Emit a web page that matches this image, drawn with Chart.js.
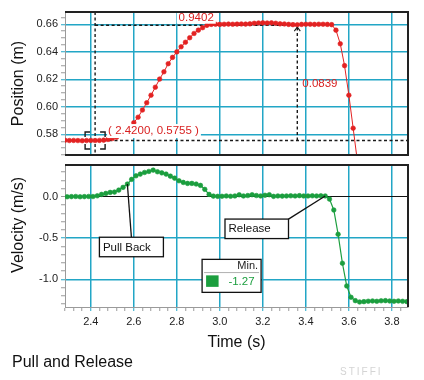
<!DOCTYPE html>
<html><head><meta charset="utf-8">
<script src="https://cdn.jsdelivr.net/npm/chart.js"></script>
<style>
html,body{margin:0;padding:0;background:#fff;}
#wrap{position:relative;width:424px;height:380px;overflow:hidden;font-family:"Liberation Sans",Arial,sans-serif;}
#cA{position:absolute;left:0;top:0;}
#cB{position:absolute;left:0;top:160px;}
#foot{position:absolute;left:12px;top:353px;font-size:16px;line-height:18px;color:#111;}
#wm{position:absolute;left:340px;top:366px;font-size:10px;line-height:12px;color:#d4d4d4;letter-spacing:2px;}
</style></head><body>
<div id="wrap">
<canvas id="cA" width="424" height="160"></canvas>
<canvas id="cB" width="424" height="200"></canvas>
<div id="foot">Pull and Release</div>
<div id="wm">STIFFI</div>
</div>
<script>
// ---------- data ----------
const posTime = [2.28,2.30,2.32,2.34,2.36,2.38,2.40,2.42,2.44,2.46,2.48,2.50,2.52,2.54,2.56,2.58,2.60,2.62,2.64,2.66,2.68,2.70,2.72,2.74,2.76,2.78,2.80,2.82,2.84,2.86,2.88,2.90,2.92,2.94,2.96,2.98,
3.00,3.02,3.04,3.06,3.08,3.10,3.12,3.14,3.16,3.18,3.20,3.22,3.24,3.26,3.28,3.30,3.32,3.34,3.36,3.38,3.40,3.42,3.44,3.46,3.48,3.50,
3.52,3.54,3.56,3.58,3.60,3.62,3.64];
const position = [0.5757,0.5755,0.5756,0.5755,0.5754,0.5755,0.5756,0.5755,0.5756,0.5758,0.5763,0.5770,0.5780,0.5795,0.5818,0.5850,0.5885,0.5925,0.5977,0.6030,0.6085,0.6143,0.6202,0.6255,0.6314,0.6360,0.6400,0.6437,0.6470,0.6503,0.6534,0.6558,0.6576,0.6593,0.6600,0.6601,
0.6600,0.6601,0.6602,0.6601,0.6602,0.6603,0.6602,0.6604,0.6608,0.6610,0.6611,0.6610,0.6611,0.6608,0.6604,0.6603,0.6600,0.6598,0.6597,0.6600,0.6601,0.6601,0.6600,0.6601,0.6601,0.6600,
0.6598,0.6558,0.6459,0.6300,0.6085,0.5845,0.5600];

const velTime = [2.29,2.31,2.33,2.35,2.37,2.39,2.41,2.43,2.45,2.47,2.49,
2.51,2.53,2.55,2.57,2.59,2.61,2.63,2.65,2.67,2.69,2.71,2.73,2.75,2.77,2.79,2.81,2.83,2.85,2.87,2.89,2.91,2.93,2.95,2.97,2.99,
3.01,3.03,3.05,3.07,3.09,3.11,3.13,3.15,3.17,3.19,3.21,3.23,3.25,3.27,3.29,3.31,3.33,3.35,3.37,3.39,3.41,3.43,3.45,3.47,3.49,
3.51,3.53,3.55,3.57,3.59,3.61,3.63,3.65,3.67,3.69,3.71,3.73,3.75,3.77,3.79,3.81,3.83,3.85,3.87,3.89];
const velocity = [0.000,0.002,0.004,0.000,0.002,0.004,0.003,0.012,0.029,0.041,0.053,
0.057,0.081,0.114,0.154,0.211,0.254,0.275,0.295,0.307,0.323,0.303,0.290,0.275,0.250,0.226,0.194,0.174,0.162,0.162,0.154,0.138,0.090,0.029,0.008,0.005,
0.006,0.010,0.006,0.010,0.024,0.010,0.015,0.025,0.015,0.010,0.018,0.025,0.005,0.010,0.008,0.010,0.012,0.010,0.014,0.010,0.010,0.012,0.010,0.012,0.010,
-0.028,-0.160,-0.454,-0.805,-1.080,-1.217,-1.258,-1.274,-1.270,-1.265,-1.262,-1.266,-1.260,-1.258,-1.262,-1.266,-1.262,-1.266,-1.270,-1.110];

const xTickLabels = ['2.4','2.6','2.8','3.0','3.2','3.4','3.6','3.8'];
const posTickLabels = ['0.58','0.60','0.62','0.64','0.66'];
const velTickLabels = ['-1.0','-0.5','0.0'];

// examine / delta annotation values
const cursorT = 2.42, cursorY = 0.5755, deltaT = 0.9402, deltaY = 0.0839;
const velMin = -1.27;

// ---------- styles ----------
const FONT = "'Liberation Sans', Arial, sans-serif";
Chart.defaults.font.family = FONT;
const RED = '#e32222', RED_TXT = '#d81f1f', GREEN = '#1b9e3e', CYAN = '#22a6c6', GREY = '#9a9a9a', INK = '#1a1a1a';
function isMajor(v, step){ const r = v/step; return Math.abs(r - Math.round(r)) < 1e-6; }
function noPad(s){ s.paddingTop = 0; s.paddingBottom = 0; s.paddingLeft = 0; s.paddingRight = 0; }

function dashed(ctx, x1, y1, x2, y2){
  ctx.save(); ctx.setLineDash([3,2.5]); ctx.strokeStyle = INK; ctx.lineWidth = 1.4;
  ctx.beginPath(); ctx.moveTo(x1,y1); ctx.lineTo(x2,y2); ctx.stroke(); ctx.restore();
}
function line(ctx, x1, y1, x2, y2, w, c){
  ctx.save(); ctx.strokeStyle = c || INK; ctx.lineWidth = w || 1;
  ctx.beginPath(); ctx.moveTo(x1,y1); ctx.lineTo(x2,y2); ctx.stroke(); ctx.restore();
}
function frame(ctx, a, bottomToo){
  line(ctx, a.left, a.top, a.right + 1, a.top, 2, '#222');
  line(ctx, a.right, a.top, a.right, a.bottom + (bottomToo ? 1 : 0), 2, '#222');
  if (bottomToo) line(ctx, a.left, a.bottom, a.right + 1, a.bottom, 2, '#222');
}

// ---------- top chart: position ----------
const annotA = {
  id: 'annotA',
  beforeDatasetsDraw(chart){
    const {ctx, chartArea: a, scales: {x, y}} = chart;
    const x0 = x.getPixelForValue(cursorT), y0 = y.getPixelForValue(cursorY);
    const x1 = x.getPixelForValue(cursorT + deltaT), y1 = y.getPixelForValue(cursorY + deltaY);
    ctx.save();
    ctx.beginPath(); ctx.rect(a.left, a.top, a.right - a.left, a.bottom - a.top); ctx.clip();
    dashed(ctx, a.left, y0, a.right, y0);
    dashed(ctx, x0, a.top, x0, a.bottom);
    dashed(ctx, x0, y1, x1, y1);
    dashed(ctx, x1, y0, x1, y1 + 2);
    ctx.restore();
  },
  afterDatasetsDraw(chart){
    const {ctx, scales: {x, y}} = chart;
    const x0 = x.getPixelForValue(cursorT), y0 = y.getPixelForValue(cursorY);
    const x1 = x.getPixelForValue(cursorT + deltaT), y1 = y.getPixelForValue(cursorY + deltaY);
    ctx.save();
    // arrow head on delta-y line
    line(ctx, x1 - 3, y1 + 6, x1, y1 + 2, 1.1);
    line(ctx, x1 + 3, y1 + 6, x1, y1 + 2, 1.1);
    // cursor bracket corners
    const bl = x0 - 10, br = x0 + 10, bt = y0 - 8.5, bb = y0 + 8.5, c = 5;
    ctx.strokeStyle = INK; ctx.lineWidth = 1.4;
    ctx.beginPath();
    ctx.moveTo(bl, bt + c); ctx.lineTo(bl, bt); ctx.lineTo(bl + c, bt);
    ctx.moveTo(br - c, bt); ctx.lineTo(br, bt); ctx.lineTo(br, bt + c);
    ctx.moveTo(bl, bb - c); ctx.lineTo(bl, bb); ctx.lineTo(bl + c, bb);
    ctx.moveTo(br - c, bb); ctx.lineTo(br, bb); ctx.lineTo(br, bb - c);
    ctx.stroke();
    // labels
    ctx.font = '11.5px ' + FONT; ctx.textBaseline = 'middle';
    const t1 = '( ' + cursorT.toFixed(4) + ', ' + cursorY.toFixed(4) + ' )';
    const w1 = ctx.measureText(t1).width;
    ctx.fillStyle = '#fff'; ctx.fillRect(x0 + 12, y0 - 16.5, w1 + 3, 14);
    ctx.fillStyle = RED_TXT; ctx.textAlign = 'left'; ctx.fillText(t1, x0 + 13, y0 - 9.5);
    const t2 = deltaT.toFixed(4), w2 = ctx.measureText(t2).width, mx = (x0 + x1) / 2;
    ctx.fillStyle = '#fff'; ctx.fillRect(mx - w2/2 - 2, y1 - 14, w2 + 4, 12.5);
    ctx.fillStyle = RED_TXT; ctx.textAlign = 'center'; ctx.fillText(t2, mx, y1 - 7.5);
    const t3 = deltaY.toFixed(4);
    ctx.textAlign = 'left'; ctx.fillText(t3, x1 + 5, (y0 + y1) / 2 + 0.5);
    ctx.restore();
  },
  afterDraw(chart){ frame(chart.ctx, chart.chartArea, true); }
};

new Chart(document.getElementById('cA'), {
  type: 'line',
  data: { datasets: [{
    data: posTime.map((t, i) => ({x: t, y: position[i]})),
    borderColor: RED, borderWidth: 1, tension: 0, clip: 0,
    pointRadius: 2.3, pointBackgroundColor: RED, pointBorderColor: RED, pointBorderWidth: 0.6
  }]},
  options: {
    responsive: false, animation: false, events: [],
    layout: { padding: { left: 0, right: 16, top: 12, bottom: 0 } },
    plugins: { legend: { display: false }, tooltip: { enabled: false } },
    scales: {
      x: {
        type: 'linear', min: 2.28, max: 3.875,
        afterFit(s){ s.height = 5; noPad(s); },
        ticks: { display: false, stepSize: 0.2, autoSkip: false, includeBounds: false },
        grid: { color: CYAN, lineWidth: 1.5, drawTicks: false },
        border: { display: false }
      },
      y: {
        type: 'linear', min: 0.565, max: 0.669,
        afterFit(s){ s.width = 65; noPad(s); },
        ticks: { stepSize: 0.005, autoSkip: false, includeBounds: false, padding: 3, color: '#222',
          font: { size: 11 },
          callback: (v) => { if (!isMajor(v, 0.02)) return ''; const s = v.toFixed(2); return posTickLabels.includes(s) ? s : ''; } },
        grid: {
          color: c => isMajor(c.tick.value, 0.02) ? CYAN : 'rgba(0,0,0,0)',
          tickColor: c => isMajor(c.tick.value, 0.02) ? CYAN : GREY,
          lineWidth: 1.5, tickLength: 4, tickWidth: 1
        },
        border: { color: GREY, width: 1 },
        title: { display: true, text: 'Position (m)', color: '#111', font: { size: 16 }, padding: { top: 9, bottom: 0 } }
      }
    }
  },
  plugins: [annotA]
});

// ---------- bottom chart: velocity ----------
function callout(ctx, text, left, top, w, h, tx, ty, fx, fy){
  ctx.save();
  line(ctx, fx, fy, tx, ty, 1.3, '#111');
  ctx.fillStyle = '#fff'; ctx.fillRect(left, top, w, h);
  ctx.strokeStyle = '#111'; ctx.lineWidth = 1.3; ctx.strokeRect(left, top, w, h);
  ctx.fillStyle = '#111'; ctx.font = '11.5px ' + FONT; ctx.textBaseline = 'middle'; ctx.textAlign = 'left';
  ctx.fillText(text, left + 3.5, top + h / 2 + 0.5);
  ctx.restore();
}
const annotB = {
  id: 'annotB',
  afterDatasetsDraw(chart){
    const {ctx, scales: {x, y}} = chart;
    // Pull Back
    let l = x.getPixelForValue(2.44), t = y.getPixelForValue(-0.49);
    callout(ctx, 'Pull Back', l, t, 64, 19.5, x.getPixelForValue(2.57), y.getPixelForValue(0.154), l + 32, t);
    // Release
    l = x.getPixelForValue(3.024); t = y.getPixelForValue(-0.27);
    callout(ctx, 'Release', l, t, 63.5, 19.5, x.getPixelForValue(3.49), y.getPixelForValue(0.01), l + 63.5, t);
    // Min stats box
    l = x.getPixelForValue(2.9175); t = y.getPixelForValue(-0.758);
    const w = 59, h = 33;
    ctx.save();
    ctx.fillStyle = '#fff'; ctx.fillRect(l, t, w, h);
    ctx.strokeStyle = '#111'; ctx.lineWidth = 1.3; ctx.strokeRect(l, t, w, h);
    line(ctx, l + 2, t + 13.2, l + w - 2, t + 13.2, 1, '#b0b0b0');
    ctx.font = '11px ' + FONT; ctx.textBaseline = 'middle'; ctx.textAlign = 'right';
    ctx.fillStyle = '#222'; ctx.fillText('Min.', l + w - 3, t + 7);
    ctx.fillStyle = GREEN; ctx.fillRect(l + 4, t + 16, 12.5, 11.5);
    ctx.font = '11.5px ' + FONT; ctx.fillText(velMin.toFixed(2), l + w - 6.5, t + 22);
    ctx.restore();
  },
  afterDraw(chart){ frame(chart.ctx, chart.chartArea, false); }
};

new Chart(document.getElementById('cB'), {
  type: 'line',
  data: { datasets: [{
    data: velTime.map((t, i) => ({x: t, y: velocity[i]})),
    borderColor: GREEN, borderWidth: 1.2, tension: 0, clip: 0,
    pointRadius: 2.3, pointBackgroundColor: GREEN, pointBorderColor: GREEN, pointBorderWidth: 0.6
  }]},
  options: {
    responsive: false, animation: false, events: [],
    layout: { padding: { left: 0, right: 16, top: 5, bottom: 0 } },
    plugins: { legend: { display: false }, tooltip: { enabled: false } },
    scales: {
      x: {
        type: 'linear', min: 2.28, max: 3.875,
        afterFit(s){ s.height = 53; noPad(s); },
        ticks: { stepSize: 0.04, autoSkip: false, includeBounds: false, maxRotation: 0, padding: 4, color: '#222',
          font: { size: 11 },
          callback: (v) => { if (!isMajor(v, 0.2)) return ''; const s = v.toFixed(1); return xTickLabels.includes(s) ? s : ''; } },
        grid: {
          color: c => isMajor(c.tick.value, 0.2) ? CYAN : 'rgba(0,0,0,0)',
          tickColor: c => isMajor(c.tick.value, 0.2) ? CYAN : GREY,
          lineWidth: 1.5, tickLength: 4, tickWidth: 1
        },
        border: { color: GREY, width: 1 },
        title: { display: true, text: 'Time (s)', color: '#111', font: { size: 16 }, padding: { top: 0, bottom: 7.7 } }
      },
      y: {
        type: 'linear', min: -1.335, max: 0.385,
        afterFit(s){ s.width = 65; noPad(s); },
        ticks: { stepSize: 0.1, autoSkip: false, includeBounds: false, padding: 3, color: '#222',
          font: { size: 11 },
          callback: (v) => { if (!isMajor(v, 0.5)) return ''; const s = (Math.abs(v) < 1e-9 ? 0 : v).toFixed(1); return velTickLabels.includes(s) ? s : ''; } },
        grid: {
          color: c => Math.abs(c.tick.value) < 1e-9 ? '#111' : (isMajor(c.tick.value, 0.5) ? CYAN : 'rgba(0,0,0,0)'),
          tickColor: c => Math.abs(c.tick.value) < 1e-9 ? GREY : (isMajor(c.tick.value, 0.5) ? CYAN : GREY),
          lineWidth: c => Math.abs(c.tick.value) < 1e-9 ? 1 : 1.5, tickLength: 4, tickWidth: 1
        },
        border: { color: GREY, width: 1 },
        title: { display: true, text: '\u00a0\u00a0\u00a0\u00a0\u00a0Velocity (m/s)', color: '#111', font: { size: 16 }, padding: { top: 9, bottom: 0 } }
      }
    }
  },
  plugins: [annotB]
});
</script>
</body></html>
